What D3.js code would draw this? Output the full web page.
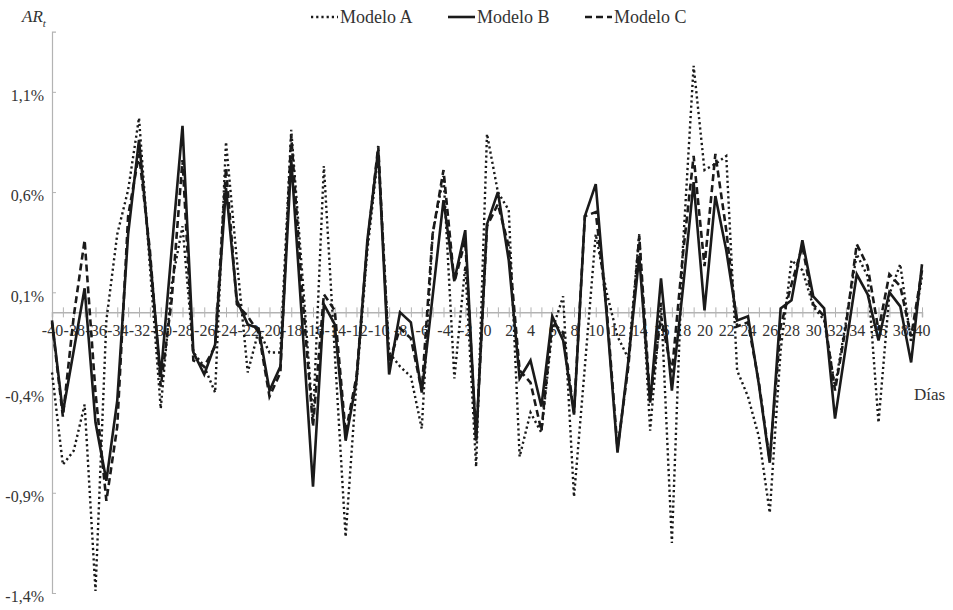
<!DOCTYPE html>
<html>
<head>
<meta charset="utf-8">
<script src="https://cdn.jsdelivr.net/npm/d3@7"></script>
<style>
  body { margin: 0; background: #fff; }
  svg text { font-family: "Palatino Linotype", "Book Antiqua", Palatino, "Liberation Serif", serif; fill: #333; }
</style>
</head>
<body>
<div id="chart"></div>
<script>
// days -40..40
let days = d3.range(-40, 41);

// Modelo A (dotted)
let modeloA = [
  -0.30, -0.76, -0.69, -0.46, -1.39, -0.04, 0.39, 0.61, 0.97, 0.23,
  -0.48, 0.14, 0.43, -0.20, -0.27, -0.40, 0.85, 0.26, -0.30, -0.09,
  -0.20, -0.20, 0.91, 0.20, -0.54, 0.73, -0.20, -1.12, -0.35, 0.31,
  0.79, -0.20, -0.27, -0.32, -0.58, 0.39, 0.68, -0.33, 0.23, -0.77,
  0.89,
  0.60, 0.51, -0.72, -0.50, -0.60, -0.09, 0.08, -0.92, -0.27, 0.39,
  0.10, -0.12, -0.23, 0.39, -0.59, 0.05, -1.15, 0.31, 1.23, 0.71,
  0.74, 0.78, -0.29, -0.42, -0.62, -1.00, -0.19, 0.26, 0.21, 0.03,
  -0.04, -0.37, -0.05, 0.29, 0.18, -0.55, 0.09, 0.24, -0.15, 0.18
];

// Modelo B (solid)
let modeloB = [
  -0.04, -0.50, -0.19, 0.12, -0.55, -0.84, -0.44, 0.39, 0.86, 0.28,
  -0.32, 0.31, 0.93, -0.20, -0.31, -0.16, 0.62, 0.06, -0.06, -0.08,
  -0.39, -0.27, 0.76, -0.05, -0.87, 0.04, -0.06, -0.64, -0.34, 0.36,
  0.81, -0.31, 0.00, -0.05, -0.40, 0.08, 0.56, 0.16, 0.41, -0.64,
  0.44,
  0.60, 0.26, -0.33, -0.24, -0.47, -0.02, -0.14, -0.51, 0.48, 0.64,
  -0.01, -0.70, -0.24, 0.28, -0.45, 0.17, -0.39, 0.11, 0.65, 0.01,
  0.58, 0.31, -0.04, -0.02, -0.36, -0.75, 0.02, 0.06, 0.36, 0.08,
  0.02, -0.53, -0.17, 0.19, 0.09, -0.14, 0.10, 0.03, -0.25, 0.24
];

// Modelo C (dashed)
let modeloC = [
  -0.05, -0.52, -0.02, 0.36, -0.40, -0.94, -0.57, 0.48, 0.79, 0.31,
  -0.37, 0.06, 0.76, -0.24, -0.27, -0.17, 0.72, 0.04, -0.02, -0.10,
  -0.42, -0.30, 0.88, 0.10, -0.57, 0.09, 0.01, -0.60, -0.32, 0.34,
  0.83, -0.25, -0.08, -0.13, -0.39, 0.39, 0.71, 0.15, 0.36, -0.64,
  0.43,
  0.54, 0.33, -0.29, -0.35, -0.59, -0.05, -0.10, -0.50, 0.48, 0.50,
  0.02, -0.68, -0.27, 0.38, -0.44, -0.02, -0.30, 0.28, 0.78, 0.23,
  0.79, 0.41, -0.07, -0.05, -0.35, -0.74, -0.07, 0.14, 0.33, 0.04,
  -0.02, -0.39, -0.07, 0.34, 0.23, -0.09, 0.19, 0.13, -0.12, 0.21
];

let yTicks = [-1.4, -0.9, -0.4, 0.1, 0.6, 1.1];

let width = 953, height = 610;
let svg = d3.select("#chart").append("svg")
  .attr("width", width)
  .attr("height", height);

let x = d3.scaleLinear().domain([-40, 40]).range([52, 922]);
let y = d3.scaleLinear().domain([-1.4, 1.4]).range([593, 31.7]);

let axisColor = "#b3b3b3";

// y axis
let yAxis = svg.append("g")
  .attr("transform", "translate(" + x(-40) + ",0)")
  .call(d3.axisLeft(y)
    .tickValues(yTicks)
    .tickSize(-4)
    .tickPadding(8)
    .tickFormat(function (d) { return d.toFixed(1).replace(".", ",") + "%"; }));
yAxis.select(".domain").attr("stroke", axisColor).attr("stroke-width", 1.2);
yAxis.selectAll(".tick line").attr("stroke", axisColor);
yAxis.selectAll(".tick text").style("font-size", "16px").attr("dy", "0.55em");

// x axis (through zero)
let xAxis = svg.append("g")
  .attr("transform", "translate(0," + y(0) + ")")
  .call(d3.axisBottom(x)
    .tickValues(days)
    .tickSize(5)
    .tickPadding(7)
    .tickFormat(function (d) { return d % 2 === 0 ? String(d) : ""; }));
xAxis.select(".domain").attr("stroke", axisColor).attr("stroke-width", 1.5);
xAxis.selectAll(".tick line").attr("stroke", axisColor).attr("y1", -5).attr("y2", 5);
xAxis.selectAll(".tick text").style("font-size", "16px");

// lines
let line = function (vals) {
  return d3.line()
    .x(function (d, i) { return x(days[i]); })
    .y(function (d) { return y(d); })(vals);
};

let series = [
  { name: "Modelo A", values: modeloA, dash: "2.2,3", w: 2.4 },
  { name: "Modelo C", values: modeloC, dash: "7,4", w: 2.6 },
  { name: "Modelo B", values: modeloB, dash: null, w: 2.6 }
];

series.forEach(function (s) {
  svg.append("path")
    .attr("d", line(s.values))
    .attr("fill", "none")
    .attr("stroke", "#1a1a1a")
    .attr("stroke-width", s.w)
    .attr("stroke-linejoin", "miter")
    .attr("stroke-dasharray", s.dash);
});

// axis titles
let yTitle = svg.append("text")
  .attr("x", 22).attr("y", 22)
  .style("font-size", "17px").style("font-style", "italic");
yTitle.append("tspan").text("AR");
yTitle.append("tspan").attr("dy", 5).style("font-size", "11px").text("t");

svg.append("text")
  .attr("x", 914).attr("y", 400)
  .style("font-size", "17px")
  .text("Días");

// legend
let legendItems = [
  { name: "Modelo A", dash: "2.2,3", x: 311 },
  { name: "Modelo B", dash: null, x: 448 },
  { name: "Modelo C", dash: "7,4", x: 585 }
];
let legend = svg.append("g");
legendItems.forEach(function (d) {
  legend.append("line")
    .attr("x1", d.x).attr("x2", d.x + 27)
    .attr("y1", 17).attr("y2", 17)
    .attr("stroke", "#1a1a1a")
    .attr("stroke-width", 2.6)
    .attr("stroke-dasharray", d.dash);
  legend.append("text")
    .attr("x", d.x + 29).attr("y", 23)
    .style("font-size", "18px")
    .text(d.name);
});
</script>
</body>
</html>
